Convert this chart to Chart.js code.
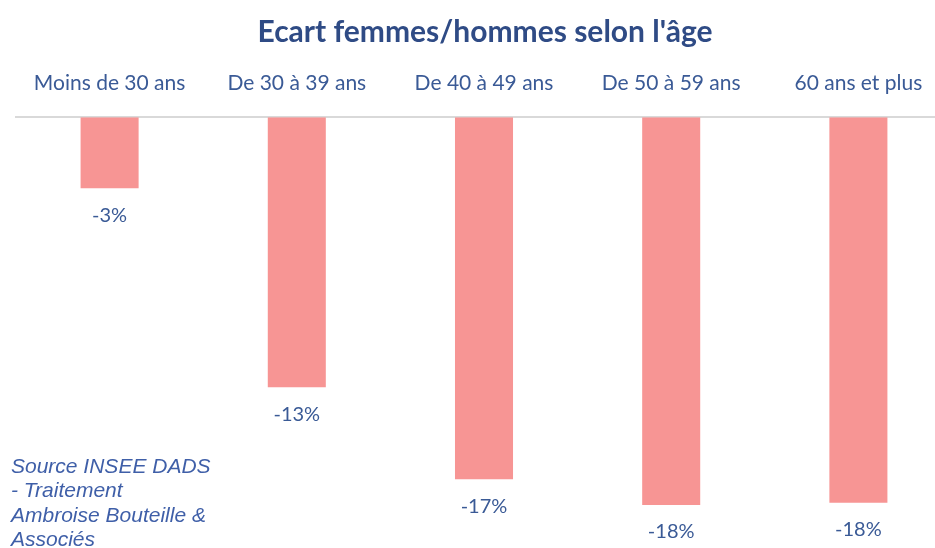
<!DOCTYPE html>
<html><head><meta charset="utf-8">
<script src="https://cdn.jsdelivr.net/npm/chart.js@4/dist/chart.umd.min.js"></script>
<style>
html,body{margin:0;padding:0;background:#fff;overflow:hidden;width:935px;height:548px;}
#wrap{position:relative;width:952px;height:548px;}
</style></head><body>
<div id="wrap"><canvas id="c" width="952" height="548"></canvas></div>
<script>
const categories = ["Moins de 30 ans","De 30 à 39 ans","De 40 à 49 ans","De 50 à 59 ans","60 ans et plus"];
const ecart = [-3.35, -12.74, -17.08, -18.3, -18.2];
const chartTitle = "Ecart femmes/hommes selon l'âge";
const sourceLines = ["Source INSEE DADS","- Traitement","Ambroise Bouteille &","Associés"];

const textBlue = "#3A5A96";
const labelPlugin = {
  id: 'labels',
  afterDatasetsDraw(chart) {
    const ctx = chart.ctx;
    const meta = chart.getDatasetMeta(0);
    ctx.save();
    ctx.font = '20px Lato, sans-serif';
    ctx.fillStyle = textBlue;
    ctx.textAlign = 'center';
    ctx.textBaseline = 'middle';
    meta.data.forEach((bar, i) => {
      ctx.fillText(Math.round(ecart[i]) + '%', bar.x, bar.y + 27);
    });
    // title
    ctx.font = 'bold 30px Lato, sans-serif';
    ctx.fillStyle = '#2F4B85';
    ctx.fillText(chartTitle, 485, 32);
    // source
    ctx.font = 'italic 21px "Liberation Sans", sans-serif';
    ctx.fillStyle = '#3F5FA8';
    ctx.textAlign = 'left';
    sourceLines.forEach((l, i) => ctx.fillText(l, 11, 467 + i * 24.5));
    ctx.restore();
  }
};

new Chart(document.getElementById('c'), {
  type: 'bar',
  data: {
    labels: categories,
    datasets: [{
      data: ecart,
      backgroundColor: '#F79594',
      barPercentage: 0.31,
      categoryPercentage: 1
    }]
  },
  options: {
    responsive: false,
    animation: false,
    layout: { padding: { left: 16, right: 0, top: 50, bottom: 7 } },
    plugins: { legend: { display: false }, tooltip: { enabled: false } },
    scales: {
      x: {
        position: 'top',
        grid: { display: false, drawTicks: false },
        border: { color: '#D9D9D9', width: 2 },
        ticks: { color: textBlue, font: { family: 'Lato, sans-serif', size: 21 }, padding: 21, maxRotation: 0 }
      },
      y: {
        display: false,
        min: -20, max: 0
      }
    }
  },
  plugins: [labelPlugin]
});
</script>
</body></html>
